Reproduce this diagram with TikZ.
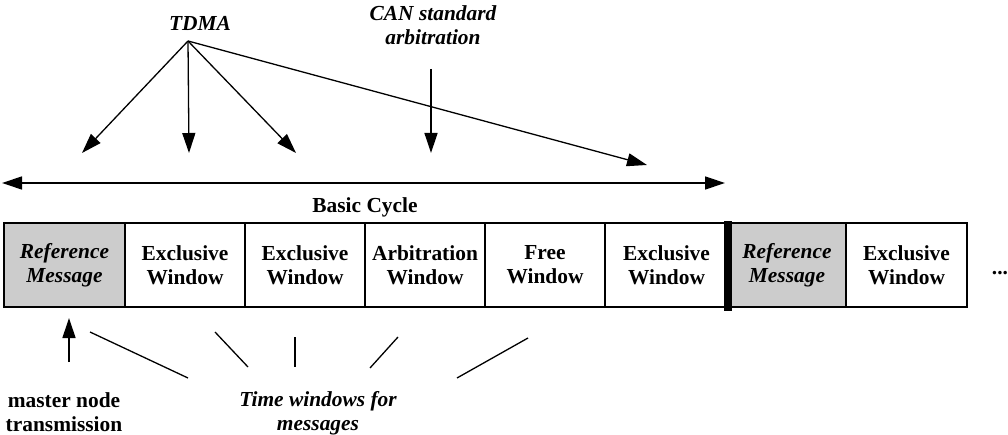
\documentclass[tikz,border=0pt]{standalone}
\usepackage{fontspec}
\setmainfont{Liberation Serif}
\usetikzlibrary{arrows.meta}
\begin{document}
\begin{tikzpicture}[x=1pt,y=-1pt,
  lbl/.style={font=\fontsize{21.4}{24}\selectfont\bfseries, align=center, inner sep=0pt},
  ilbl/.style={font=\fontsize{21.4}{24}\selectfont\bfseries\itshape, align=center, inner sep=0pt},
  win/.style={draw, line width=1.5pt, minimum height=84pt, inner sep=0pt, outer sep=0pt, font=\fontsize{21.4}{24}\selectfont\bfseries, align=center},
  refwin/.style={win, fill=black!20, font=\fontsize{21.4}{24}\selectfont\bfseries\itshape},
  arr/.style={line width=1.3pt, -{Triangle[length=20pt,width=13pt]}},
  plain/.style={line width=1.3pt}
]
\useasboundingbox (0,0) rectangle (1008,435);
% window row
\node[refwin, minimum width=121pt] (b1) at (64.5,265) {Reference\\Message};
\node[win, minimum width=120pt] (b2) at (185,265) {Exclusive\\Window};
\node[win, minimum width=120pt] (b3) at (305,265) {Exclusive\\Window};
\node[win, minimum width=120pt] (b4) at (425,265) {Arbitration\\Window};
\node[win, minimum width=120pt] (b5) at (545,265) {Free\\Window};
\node[win, minimum width=123pt] (b6) at (666.5,265) {Exclusive\\Window};
\node[refwin, minimum width=118pt] (b7) at (787,265) {Reference\\Message};
\node[win, minimum width=121pt] (b8) at (906.5,265) {Exclusive\\Window};
\fill (724,221) rectangle (732,311);
\node[lbl] (dots) at (1000,273) {...};
% basic cycle
\coordinate (cl) at (2,183);
\coordinate (cr) at (725,183);
\draw[line width=1.3pt, {Triangle[length=20pt,width=13pt]}-{Triangle[length=20pt,width=13pt]}] (cl) -- (cr);
\node[lbl] (bc) at (365,207) {Basic Cycle};
% TDMA
\node[ilbl] (tdma) at (200,23) {TDMA};
\coordinate (t) at (188,41);
\coordinate (t1) at (82,153);
\coordinate (t2) at (189,153);
\coordinate (t3) at (296,153);
\coordinate (t4) at (647,165);
\draw[arr] (t) -- (t1);
\draw[arr] (t) -- (t2);
\draw[arr] (t) -- (t3);
\draw[arr] (t) -- (t4);
% CAN
\node[ilbl] (can) at (433,25) {CAN standard\\arbitration};
\coordinate (c0) at (431,69);
\coordinate (c1) at (431,153);
\draw[arr] (c0) -- (c1);
% bottom
\node[lbl] (master) at (64,412) {master node\\transmission};
\coordinate (m0) at (69,362);
\coordinate (m1) at (69,318);
\draw[arr] (m0) -- (m1);
\node[ilbl] (tw) at (318,413) {Time windows for\\messages};
\coordinate (l1a) at (90,332); \coordinate (l1b) at (188,378);
\coordinate (l2a) at (215,332); \coordinate (l2b) at (248,367);
\coordinate (l3a) at (295,337); \coordinate (l3b) at (295,367);
\coordinate (l4a) at (398,337); \coordinate (l4b) at (370,368);
\coordinate (l5a) at (528,338); \coordinate (l5b) at (457,378);
\draw[plain] (l1a) -- (l1b);
\draw[plain] (l2a) -- (l2b);
\draw[plain] (l3a) -- (l3b);
\draw[plain] (l4a) -- (l4b);
\draw[plain] (l5a) -- (l5b);
\end{tikzpicture}
\end{document}
